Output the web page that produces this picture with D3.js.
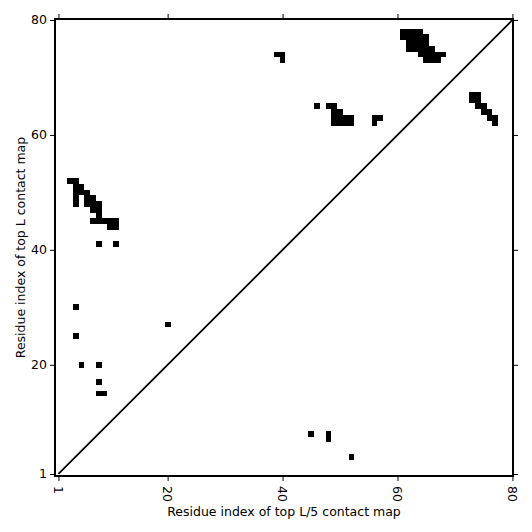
<!DOCTYPE html>
<html>
<head>
<meta charset="utf-8">
<script src="https://cdn.jsdelivr.net/npm/d3@7"></script>
<style>
  body { margin: 0; background: #fff; }
  text { font-family: "DejaVu Sans", sans-serif; fill: #000; }
</style>
</head>
<body>
<script>
const width = 532;
const height = 532;

// tick values shared by both axes
const tickValues = [1, 20, 40, 60, 80];

// contacts above the diagonal (top L map), as [x, y]
const topLContacts = [
  [3,52],[4,52],
  [4,51],[5,51],
  [4,50],[5,50],[6,50],
  [4,49],[6,49],[7,49],
  [4,48],[6,48],[7,48],[8,48],
  [7,47],[8,47],
  [8,46],
  [7,45],[8,45],[9,45],[10,45],[11,45],
  [10,44],[11,44],
  [8,41],[11,41],
  [4,30],[20,27],[4,25],
  [5,20],[8,20],[8,17],[8,15],[9,15],
  [39,74],[40,74],[40,73],
  [46,65],[48,65],[49,65],
  [49,64],[50,64],
  [49,63],[50,63],[51,63],[52,63],
  [49,62],[50,62],[51,62],[52,62],
  [56,63],[57,63],[56,62],
  [61,78],[62,78],[63,78],[64,78],
  [61,77],[62,77],[63,77],[64,77],[65,77],
  [62,76],[63,76],[64,76],[65,76],
  [62,75],[63,75],[64,75],[65,75],[66,75],
  [64,74],[65,74],[66,74],[67,74],[68,74],
  [65,73],[66,73],[67,73]
];

// contacts below the diagonal (top L/5 map), as [x, y]
const topL5Contacts = [
  [73,67],[74,67],
  [73,66],[74,66],
  [74,65],[75,65],
  [75,64],[76,64],
  [76,63],[77,63],
  [77,62],
  [45,8],[48,8],[48,7],[52,4]
];

const x = d3.scaleLinear().domain([0.4, 80.1]).range([55, 513]);
const y = d3.scaleLinear().domain([0.65, 80.17]).range([476, 19]);

const svg = d3.select(document.body).append("svg")
    .attr("width", width)
    .attr("height", height);

const cells = topLContacts.concat(topL5Contacts);

svg.append("g")
  .selectAll("rect")
  .data(cells)
  .join("rect")
    .attr("x", d => x(d[0] - 0.5))
    .attr("y", d => y(d[1] + 0.5))
    .attr("width", d => x(d[0] + 0.5) - x(d[0] - 0.5))
    .attr("height", d => y(d[1] - 0.5) - y(d[1] + 0.5))
    .attr("fill", "#000")
    .attr("shape-rendering", "crispEdges");

// diagonal
svg.append("line")
    .attr("x1", x(1)).attr("y1", y(1))
    .attr("x2", x(80)).attr("y2", y(80))
    .attr("stroke", "#000")
    .attr("stroke-width", 1.8);

// axes
const fontSize = 12.5;

const gBottom = svg.append("g")
    .attr("transform", `translate(0,${y.range()[0]})`)
    .call(d3.axisBottom(x).tickValues(tickValues).tickSize(5).tickFormat(""));
const gTop = svg.append("g")
    .attr("transform", `translate(0,${y.range()[1]})`)
    .call(d3.axisTop(x).tickValues(tickValues).tickSize(5).tickFormat(""));
const gLeft = svg.append("g")
    .attr("transform", `translate(${x.range()[0]},0)`)
    .call(d3.axisLeft(y).tickValues(tickValues).tickSize(5).tickPadding(3));
const gRight = svg.append("g")
    .attr("transform", `translate(${x.range()[1]},0)`)
    .call(d3.axisRight(y).tickValues(tickValues).tickSize(5).tickFormat(""));

[gBottom, gTop, gLeft, gRight].forEach(g => {
  g.select(".domain").remove();
  g.selectAll(".tick line").attr("stroke", "#000").attr("stroke-width", 1);
});

gLeft.selectAll(".tick text")
    .attr("font-size", fontSize)
    .attr("font-family", "DejaVu Sans")
    .attr("fill", "#000");

// rotated x tick labels
svg.append("g")
  .selectAll("text")
  .data(tickValues)
  .join("text")
    .attr("transform", d => `translate(${x(d)},${y.range()[0] + 10}) rotate(90)`)
    .attr("dy", "0.35em")
    .attr("text-anchor", "start")
    .attr("font-size", fontSize)
    .text(d => d);

// frame
svg.append("rect")
    .attr("x", x.range()[0])
    .attr("y", y.range()[1])
    .attr("width", x.range()[1] - x.range()[0])
    .attr("height", y.range()[0] - y.range()[1])
    .attr("fill", "none")
    .attr("stroke", "#000")
    .attr("stroke-width", 2);

// axis titles
svg.append("text")
    .attr("x", (x.range()[0] + x.range()[1]) / 2)
    .attr("y", 516)
    .attr("text-anchor", "middle")
    .attr("font-size", fontSize)
    .text("Residue index of top L/5 contact map");

svg.append("text")
    .attr("transform", `translate(25,${(y.range()[0] + y.range()[1]) / 2}) rotate(-90)`)
    .attr("text-anchor", "middle")
    .attr("font-size", fontSize)
    .text("Residue index of top L contact map");
</script>
</body>
</html>
